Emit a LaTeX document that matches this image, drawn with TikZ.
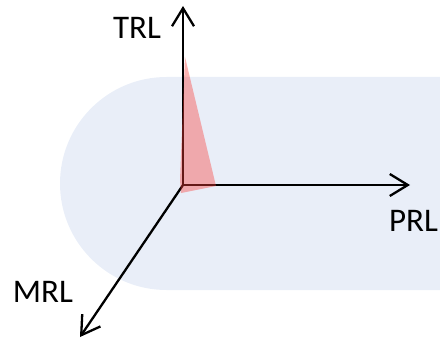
\documentclass[tikz,border=0pt]{standalone}
\usepackage{fontspec}
\setmainfont{Carlito}
\usetikzlibrary{arrows.meta}
\definecolor{bgblue}{RGB}{233,238,248}
\definecolor{redfill}{RGB}{250,63,58}
\tikzset{
  axis/.style={line width=2.3pt, -{Straight Barb[length=18pt,width=22pt,line width=2.3pt]}},
  lbl/.style={font=\fontsize{33}{36}\selectfont, anchor=base, inner sep=0pt}
}
\begin{document}
\begin{tikzpicture}[x=1pt,y=1pt]
\useasboundingbox (0,0) rectangle (440,341);
% background pill
\fill[bgblue] (440,264) -- (166.5,264) arc[start angle=90,end angle=270,radius=106.5] -- (440,51) -- cycle;
% axes
\coordinate (O) at (183,156);
\coordinate (T) at (183,335);
\coordinate (P) at (410,156);
\coordinate (M) at (80,4);
\draw[axis] (O) -- (T);
\draw[axis] (O) -- (P);
\draw[axis] (O) -- (M);
% red wedge
\fill[redfill, opacity=0.4] (185,284) -- (216,155) -- (181,148) -- (180,161) -- cycle;
% labels
\node[lbl] (trl) at (137,302) {TRL};
\node[lbl] (prl) at (413.5,109.3) {PRL};
\node[lbl] (mrl) at (43,38.3) {MRL};
\end{tikzpicture}
\end{document}
